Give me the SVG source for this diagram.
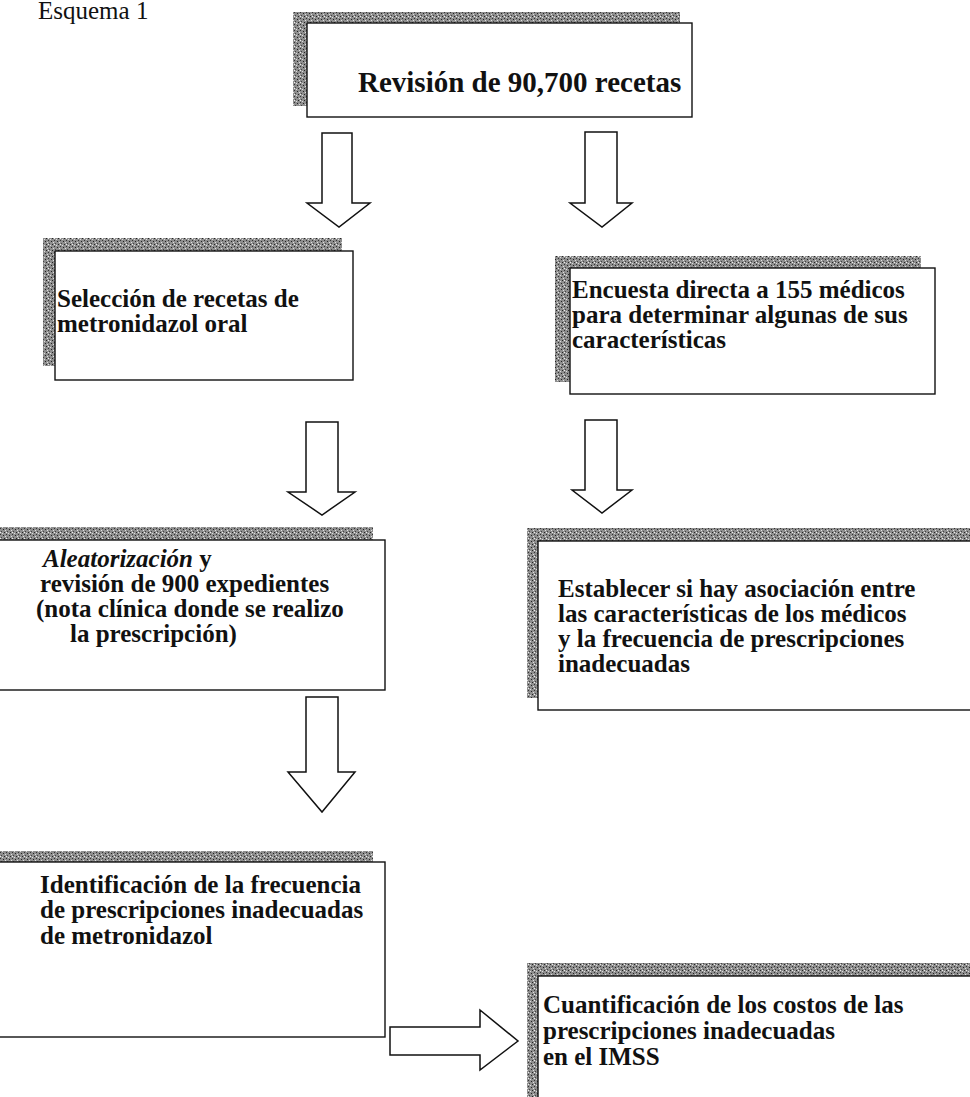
<svg xmlns="http://www.w3.org/2000/svg" width="970" height="1097" viewBox="0 0 970 1097">
<defs>
<pattern id="stip" width="6" height="6" patternUnits="userSpaceOnUse">
<rect width="6" height="6" fill="#8e8e8e"/>
<rect x="0" y="0" width="1" height="1" fill="#333"/>
<rect x="3" y="1" width="1" height="1" fill="#222"/>
<rect x="1" y="3" width="1" height="1" fill="#444"/>
<rect x="4" y="4" width="1" height="1" fill="#222"/>
<rect x="2" y="5" width="1" height="1" fill="#ddd"/>
<rect x="5" y="2" width="1" height="1" fill="#e0e0e0"/>
<rect x="0" y="4" width="1" height="1" fill="#eee"/>
</pattern>
</defs>
<style>
.sh{fill:url(#stip);}
.bx{fill:#fff;stroke:#111;stroke-width:1.4;}
.t{font-family:"Liberation Serif","Times New Roman",serif;font-weight:bold;font-size:25px;fill:#111;}
.ar{fill:#fff;stroke:#111;stroke-width:1.5;stroke-linejoin:miter;}
</style>
<rect width="970" height="1097" fill="#fff"/>
<text x="38" y="19" font-family="Liberation Serif, serif" font-size="25" fill="#111">Esquema 1</text>

<g id="n1">
<rect class="sh" x="293" y="12" width="387" height="94"/>
<rect class="bx" x="307" y="23" width="385" height="94"/>
<text class="t" x="358" y="92" style="font-size:29px">Revisión de 90,700 recetas</text>
</g>

<g id="n2">
<rect class="sh" x="43" y="238" width="299" height="128"/>
<rect class="bx" x="55" y="251" width="298" height="129"/>
<text class="t" x="57" y="307">Selección de recetas de</text>
<text class="t" x="57" y="332">metronidazol oral</text>
</g>

<g id="n3">
<rect class="sh" x="555" y="256" width="366" height="126"/>
<rect class="bx" x="570" y="268" width="365" height="126"/>
<text class="t" x="572" y="298">Encuesta directa a 155 médicos</text>
<text class="t" x="572" y="323">para determinar algunas de sus</text>
<text class="t" x="572" y="348">características</text>
</g>

<g id="n4">
<rect class="sh" x="-10" y="527" width="383" height="150"/>
<rect class="bx" x="-10" y="540" width="395" height="150"/>
<text class="t" x="43" y="567"><tspan font-style="italic">Aleatorización</tspan> y</text>
<text class="t" x="40" y="592">revisión de 900 expedientes</text>
<text class="t" x="36" y="617">(nota clínica donde se realizo</text>
<text class="t" x="70" y="642">la prescripción)</text>
</g>

<g id="n5">
<rect class="sh" x="527" y="528" width="460" height="170"/>
<rect class="bx" x="538" y="541" width="460" height="169"/>
<text class="t" x="558" y="597">Establecer si hay asociación entre</text>
<text class="t" x="558" y="622">las características de los médicos</text>
<text class="t" x="558" y="647">y la frecuencia de prescripciones</text>
<text class="t" x="558" y="672">inadecuadas</text>
</g>

<g id="n6">
<rect class="sh" x="-10" y="851" width="383" height="170"/>
<rect class="bx" x="-10" y="862" width="395" height="175"/>
<text class="t" x="40" y="893">Identificación de la frecuencia</text>
<text class="t" x="40" y="918">de prescripciones inadecuadas</text>
<text class="t" x="40" y="944">de metronidazol</text>
</g>

<g id="n7">
<rect class="sh" x="527" y="963" width="460" height="150"/>
<rect class="bx" x="538" y="976" width="460" height="150"/>
<text class="t" x="543" y="1013">Cuantificación de los costos de las</text>
<text class="t" x="543" y="1039">prescripciones inadecuadas</text>
<text class="t" x="543" y="1065">en el IMSS</text>
</g>

<g id="connectors">
<polygon class="ar" points="322,133 352,133 352,203 370,203 339,227 307,203 322,203"/>
<polygon class="ar" points="585,132 617,132 617,203 632,203 602,227 570,203 585,203"/>
<polygon class="ar" points="306,422 338,422 338,492 355,492 322,515 288,492 306,492"/>
<polygon class="ar" points="585,420 617,420 617,490 632,490 602,513 572,490 585,490"/>
<polygon class="ar" points="306,697 338,697 338,772 355,772 322,812 288,772 306,772"/>
<polygon class="ar" points="390,1027 480,1027 480,1010 518,1041 480,1070 480,1055 390,1055"/>
</g>
</svg>
